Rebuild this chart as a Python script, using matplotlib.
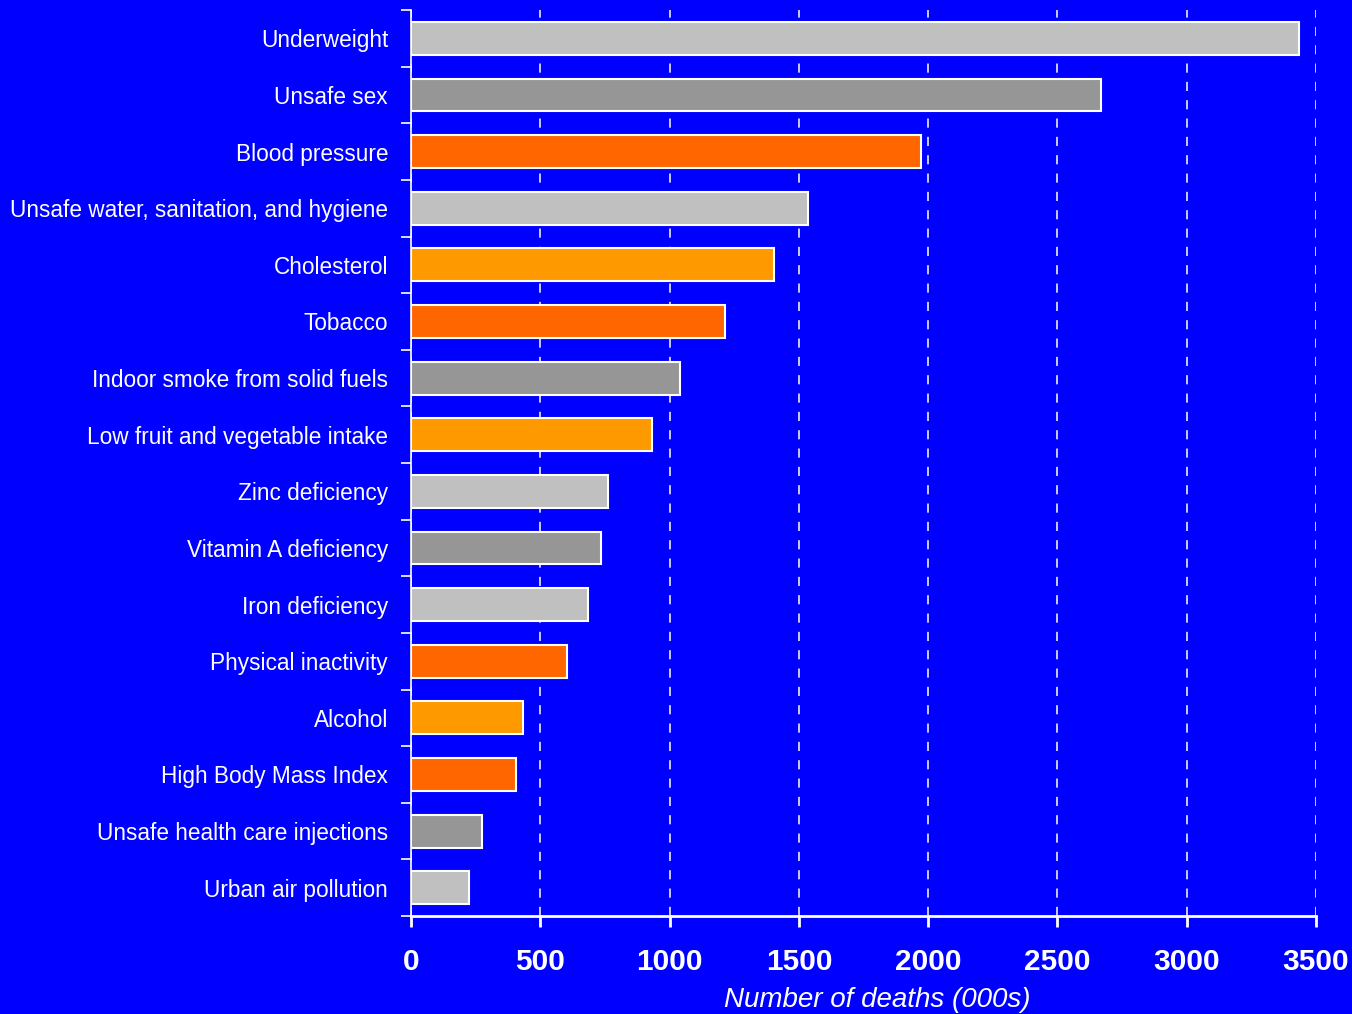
import matplotlib
matplotlib.use("Agg")
import matplotlib.pyplot as plt

categories = ["Underweight", "Unsafe sex", "Blood pressure",
              "Unsafe water, sanitation, and hygiene", "Cholesterol", "Tobacco",
              "Indoor smoke from solid fuels", "Low fruit and vegetable intake",
              "Zinc deficiency", "Vitamin A deficiency", "Iron deficiency",
              "Physical inactivity", "Alcohol", "High Body Mass Index",
              "Unsafe health care injections", "Urban air pollution"]
deaths = [3434, 2668, 1972, 1535, 1404, 1214, 1040, 932, 762, 735, 684,
          603, 433, 406, 275, 224]
bar_colors = ["#C0C0C0", "#969696", "#FF6600", "#C0C0C0", "#FF9900", "#FF6600",
              "#969696", "#FF9900", "#C0C0C0", "#969696", "#C0C0C0", "#FF6600",
              "#FF9900", "#FF6600", "#969696", "#C0C0C0"]
xticks = [0, 500, 1000, 1500, 2000, 2500, 3000, 3500]

label_font = "Liberation Sans"

BG = "#0000FF"
fig = plt.figure(figsize=(13.52, 10.14), dpi=100, facecolor=BG)
ax = fig.add_axes([0.304, 0.0966, 0.6694, 0.8935], facecolor=BG)

ypos = list(range(len(categories)))
ax.barh(ypos, deaths, height=0.58, color=bar_colors, edgecolor="white",
        linewidth=1.5, zorder=3)
ax.set_ylim(len(categories) - 0.5, -0.5)
ax.set_xlim(0, 3500)

ax.set_xticks(xticks)
ax.set_xticklabels([str(v) for v in xticks], fontsize=21.5, fontweight="bold",
                   color="white", family="Liberation Sans")
ax.tick_params(axis="x", length=8, width=2, color="white", pad=15, direction="out")

ax.set_yticks([i - 0.5 for i in range(len(categories) + 1)])
ax.set_yticklabels([])
ax.set_yticks(ypos, minor=True)
ax.set_yticklabels(categories, minor=True, fontsize=16.3, color="white",
                   family=label_font)
ax.tick_params(axis="y", which="major", length=7, width=1.2, color="white")
ax.tick_params(axis="y", which="minor", length=0, pad=16.5)

ax.grid(axis="x", color="white", linestyle=(0, (6, 6)), linewidth=1.1, zorder=0)
for s in ["top", "right"]:
    ax.spines[s].set_visible(False)
ax.spines["left"].set_color("white")
ax.spines["bottom"].set_color("white")
ax.spines["left"].set_linewidth(1.2)
ax.spines["bottom"].set_linewidth(2)

ax.set_xlabel("Number of deaths (000s)", fontsize=20, style="italic",
              color="white", family=label_font)
ax.xaxis.set_label_coords(0.515, -0.078)

fig.savefig("out.png", dpi=100, facecolor=BG)
